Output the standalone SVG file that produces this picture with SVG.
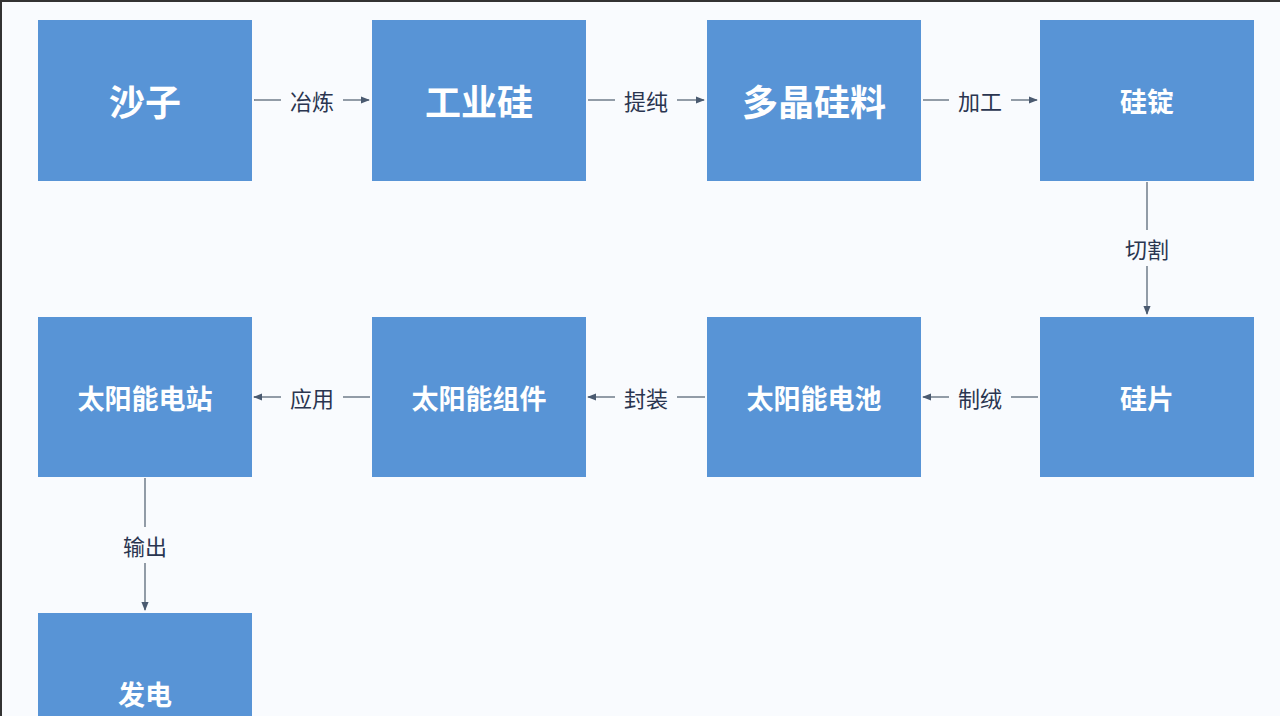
<svg xmlns="http://www.w3.org/2000/svg" width="1280" height="716" viewBox="0 0 1280 716">
<defs><marker id="a" viewBox="0 0 10 10" refX="9" refY="5" markerWidth="7" markerHeight="7" orient="auto"><path d="M0,1 L10,5 L0,9 z" fill="#4a5a70"/></marker></defs>
<style>
.b{fill:#5894d6}
.t{fill:#fff;font-family:"Noto Sans CJK SC",sans-serif;font-weight:bold;text-anchor:middle;dominant-baseline:central}
.l{fill:#2a3550;font-family:"Noto Sans CJK SC",sans-serif;font-size:22px;text-anchor:middle;dominant-baseline:central}
.c{stroke:#5a6878;stroke-width:1.3;fill:none}
</style>
<rect width="1280" height="716" fill="#f9fbfe"/>
<path d="M0,1 H1280 M1,0 V716" stroke="#333" stroke-width="2"/>
<g id="n1"><rect class="b" x="38" y="20" width="214" height="161"/><text class="t" x="145" y="100" font-size="36">沙子</text></g>
<g id="n2"><rect class="b" x="372" y="20" width="214" height="161"/><text class="t" x="479" y="100" font-size="36">工业硅</text></g>
<g id="n3"><rect class="b" x="707" y="20" width="214" height="161"/><text class="t" x="814" y="100" font-size="36">多晶硅料</text></g>
<g id="n4"><rect class="b" x="1040" y="20" width="214" height="161"/><text class="t" x="1147" y="100" font-size="27">硅锭</text></g>
<g id="n5"><rect class="b" x="1040" y="317" width="214" height="160"/><text class="t" x="1147" y="397" font-size="27">硅片</text></g>
<g id="n6"><rect class="b" x="707" y="317" width="214" height="160"/><text class="t" x="814" y="397" font-size="27">太阳能电池</text></g>
<g id="n7"><rect class="b" x="372" y="317" width="214" height="160"/><text class="t" x="479" y="397" font-size="27">太阳能组件</text></g>
<g id="n8"><rect class="b" x="38" y="317" width="214" height="160"/><text class="t" x="145" y="397" font-size="27">太阳能电站</text></g>
<g id="n9"><rect class="b" x="38" y="613" width="214" height="110"/><text class="t" x="145" y="693" font-size="27">发电</text></g>
<g id="connectors">
<path class="c" d="M254,100 H281"/><path class="c" d="M343,100 H369" marker-end="url(#a)"/><text class="l" x="312" y="100">冶炼</text>
<path class="c" d="M588,100 H615"/><path class="c" d="M677,100 H704" marker-end="url(#a)"/><text class="l" x="646" y="100">提纯</text>
<path class="c" d="M923,100 H949"/><path class="c" d="M1011,100 H1037" marker-end="url(#a)"/><text class="l" x="980" y="100">加工</text>
<path class="c" d="M1147,182 V230"/><path class="c" d="M1147,266 V314" marker-end="url(#a)"/><text class="l" x="1147" y="248">切割</text>
<path class="c" d="M1038,397 H1011"/><path class="c" d="M949,397 H923" marker-end="url(#a)"/><text class="l" x="980" y="397">制绒</text>
<path class="c" d="M705,397 H677"/><path class="c" d="M615,397 H588" marker-end="url(#a)"/><text class="l" x="646" y="397">封装</text>
<path class="c" d="M370,397 H343"/><path class="c" d="M281,397 H254" marker-end="url(#a)"/><text class="l" x="312" y="397">应用</text>
<path class="c" d="M145,478 V527"/><path class="c" d="M145,563 V610" marker-end="url(#a)"/><text class="l" x="145" y="545">输出</text>
</g>
</svg>
